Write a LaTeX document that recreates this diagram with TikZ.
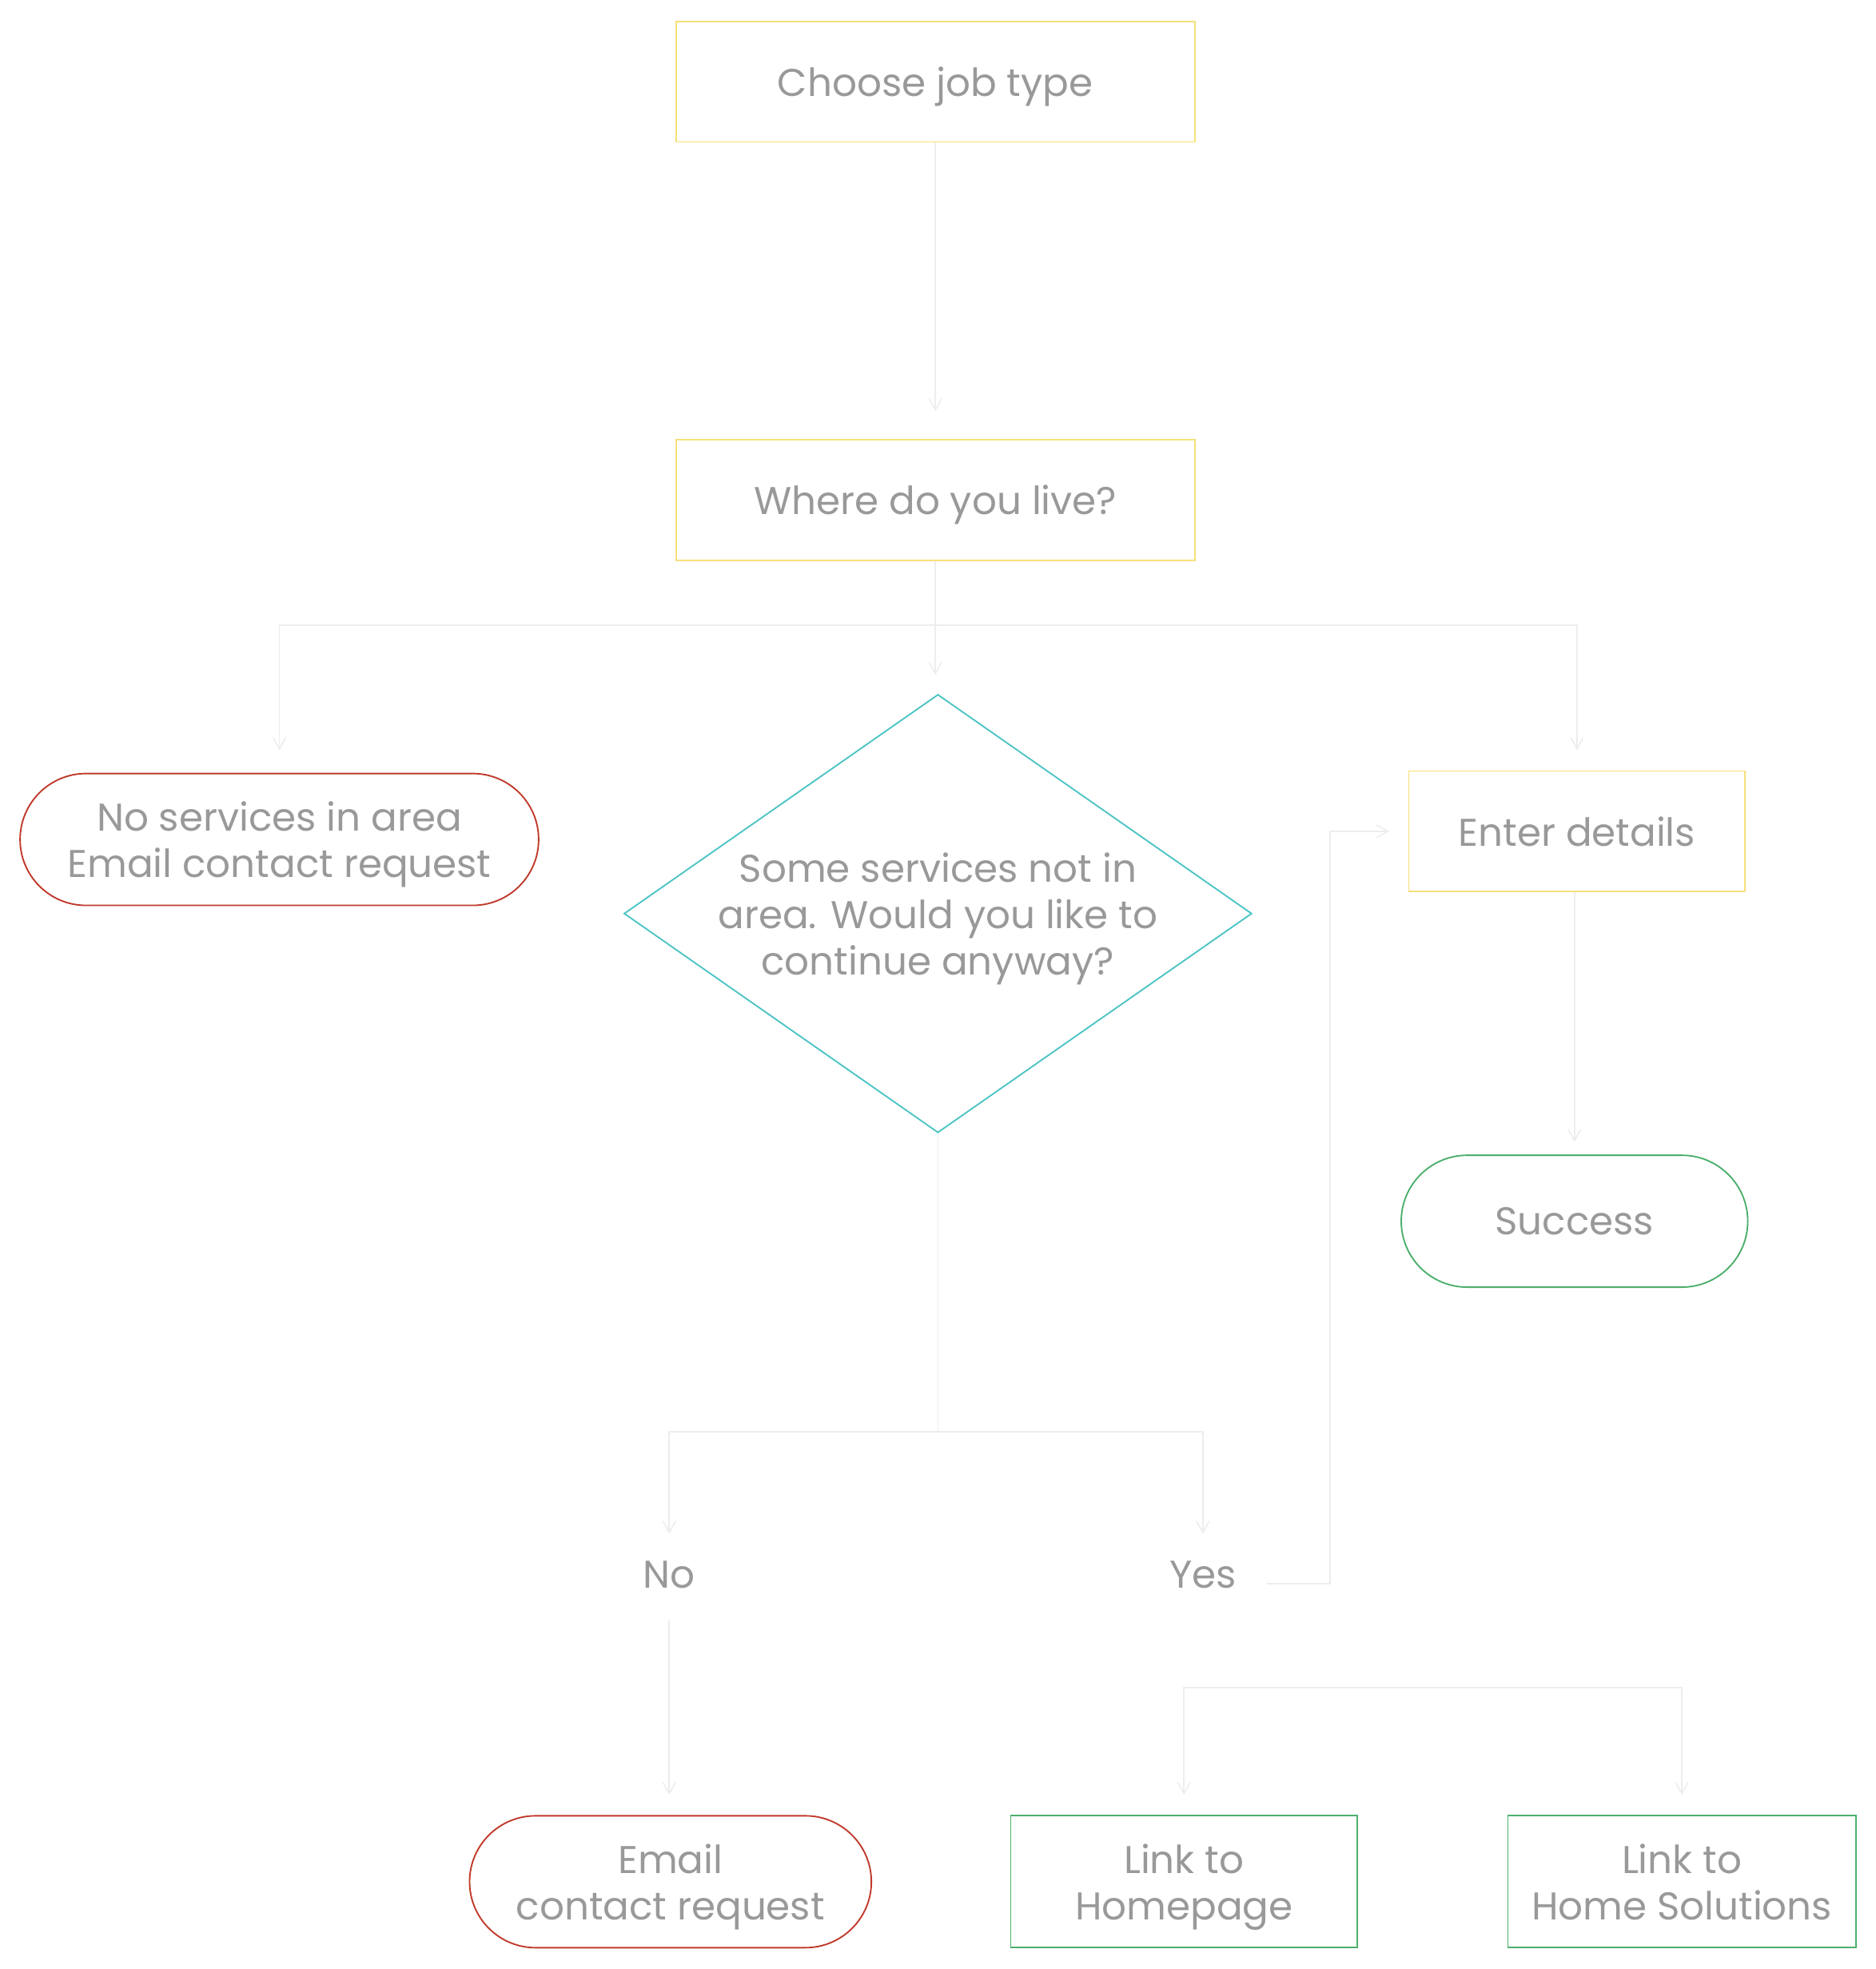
\documentclass[tikz,border=0pt]{standalone}
\usepackage{fontspec}
\setmainfont{Poppins}
\usetikzlibrary{shapes.geometric,arrows.meta}
\definecolor{ylw}{HTML}{F7E07A}
\definecolor{redc}{HTML}{C0392B}
\definecolor{teal}{HTML}{4DC4C4}
\definecolor{grn}{HTML}{4CAF6C}
\definecolor{txt}{HTML}{999999}
\definecolor{lnc}{HTML}{EDEDED}
\begin{document}
\begin{tikzpicture}[x=0.5pt,y=-0.5pt,
  base/.style={line width=0.6pt, inner sep=0pt, text=txt, align=center, text depth=0pt,
    font=\fontsize{15.4}{18.5}\selectfont},
  ybox/.style={base, draw=ylw, minimum height=48pt},
  gbox/.style={base, draw=grn, minimum height=52.5pt},
  rpill/.style={base, draw=redc, minimum height=52.5pt, rounded corners=26.25pt},
  gpill/.style={base, draw=grn, minimum height=52.5pt, rounded corners=26.25pt},
  dia/.style={base, draw=teal, diamond, minimum width=250pt, minimum height=174.5pt},
  lbl/.style={base, minimum height=30pt},
  line/.style={draw=lnc, line width=0.5pt},
  conn/.style={line, -{Straight Barb[length=4.5pt,width=5pt]}}]
\useasboundingbox (0,0) rectangle (1494,1568);

\node[ybox, minimum width=206.5pt] (choose) at (745,65) {Choose job type};
\node[ybox, minimum width=206.5pt] (where) at (745,398) {Where do you live?};
\node[rpill, minimum width=206.5pt] (nosvc) at (222.5,668.5) {No services in area\\Email contact request};
\node[dia, label={[base]center:Some services not in\\area. Would you like to\\continue anyway?}] (dec) at (747,727.5) {};
\node[ybox, minimum width=134pt] (enter) at (1256,662) {Enter details};
\node[gpill, minimum width=138pt] (success) at (1254,972.5) {Success};
\node[lbl] (no) at (533,1254) {No};
\node[lbl] (yes) at (958,1254) {Yes};
\node[rpill, minimum width=160pt] (email) at (534,1498.5) {Email\\contact request};
\node[gbox, minimum width=138pt] (home) at (943,1498.5) {Link to\\Homepage};
\node[gbox, minimum width=138.5pt] (sol) at (1339.5,1498.5) {Link to\\Home Solutions};

\coordinate (j1) at (745,498);
\coordinate (j2) at (747,1140);
\coordinate (j3) at (1142,1344);

\draw[conn, shorten >=11pt] (choose.south) -- (where.north);
\draw[line] (where.south) -- (j1);
\draw[conn, shorten >=9pt] (j1) -| (nosvc.north);
\draw[conn, shorten >=7.5pt] (j1) -- (j1 |- dec.north);
\draw[conn, shorten >=8pt] (j1) -| (enter.north);
\draw[line] (dec.south) -- (j2);
\draw[conn, shorten >=1pt] (j2) -| (no.north);
\draw[conn, shorten >=1pt] (j2) -| (yes.north);
\draw[conn, shorten <=3pt, shorten >=8pt] (no.south) -- (no.south |- email.north);
\draw[conn, shorten >=7.5pt] ([xshift=12pt,yshift=-3.5pt]yes.east) -- ++(50,0) |- (enter.west);
\draw[conn, shorten >=5pt] (success.north |- enter.south) -- (success.north);
\draw[conn, shorten >=8pt] (j3) -| (home.north);
\draw[conn, shorten >=8pt] (j3) -| (sol.north);
\end{tikzpicture}
\end{document}
